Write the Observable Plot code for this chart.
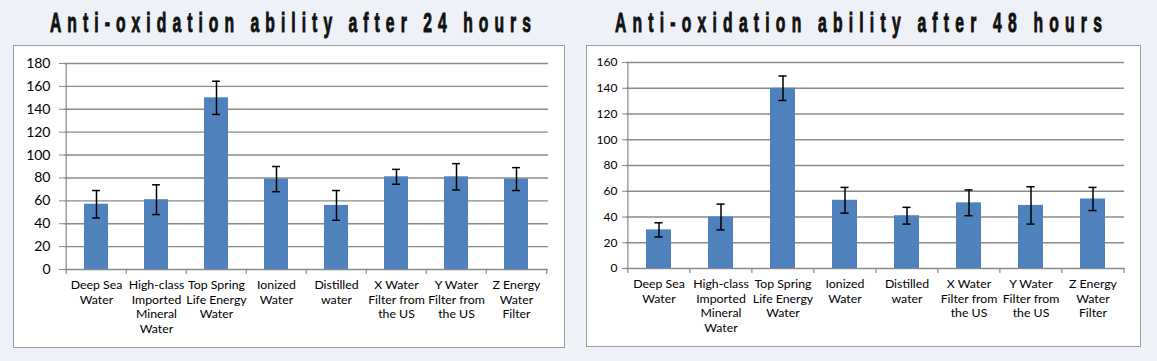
<!DOCTYPE html>
<html><head><meta charset="utf-8">
<script src="https://cdn.jsdelivr.net/npm/d3@7"></script>
<script src="https://cdn.jsdelivr.net/npm/@observablehq/plot@0.6"></script>
<style>
body{margin:0;background:#eef2f8;width:1157px;height:361px;overflow:hidden;position:relative;font-family:Lato,sans-serif}
.title{position:absolute;top:7.6px;white-space:nowrap;font-family:"Liberation Sans",Arial,sans-serif;font-weight:bold;font-size:28px;color:#111;line-height:30px;display:inline-block;transform-origin:0 0;-webkit-text-stroke:1px #111}
.box{position:absolute;background:#fff;border:1px solid #9c9c9c}
.box svg{display:block}
</style></head><body>
<div id="t1" class="title"></div>
<div id="t2" class="title"></div>
<div id="b1" class="box" style="left:13px;top:45px;width:550px;height:301px"></div>
<div id="b2" class="box" style="left:586px;top:45px;width:553px;height:300px"></div>
<script>
const categories = [
  "Deep Sea\nWater",
  "High-class\nImported\nMineral\nWater",
  "Top Spring\nLife Energy\nWater",
  "Ionized\nWater",
  "Distilled\nwater",
  "X Water\nFilter from\nthe US",
  "Y Water\nFilter from\nthe US",
  "Z Energy\nWater\nFilter"
];
const titles = ["Anti-oxidation ability after 24 hours", "Anti-oxidation ability after 48 hours"];
const values24 = [57, 61, 150, 79, 56, 81, 81, 79];
const errors24 = [12, 13, 14.5, 11, 13, 6.5, 11.5, 10];
const ticks24 = [0, 20, 40, 60, 80, 100, 120, 140, 160, 180];
const values48 = [30, 40, 140, 53, 41, 51, 49, 54];
const errors48 = [5.5, 10, 9.5, 10, 6.5, 10, 14.5, 9];
const ticks48 = [0, 20, 40, 60, 80, 100, 120, 140, 160];

const gray = "#8a8a8a";

function chart(o) {
  const data = categories.map((c, i) => ({c, v: o.values[i], e: o.errors[i]}));
  const n = categories.length;
  const step = (o.width - o.ml - o.mr) / n;
  const bw = step * 0.4;
  const capInset = (bw - 8) / 2;
  return Plot.plot({
    width: o.width, height: o.height,
    marginLeft: o.ml, marginRight: o.mr, marginTop: o.mt, marginBottom: o.mb,
    style: {fontFamily: "Lato, sans-serif", background: "white", overflow: "visible", color: "#000"},
    x: {domain: categories, paddingInner: 0.6, paddingOuter: 0.3, axis: null},
    y: {domain: [0, o.ticks[o.ticks.length - 1]], axis: null},
    marks: [
      Plot.gridY(o.ticks, {stroke: gray, strokeOpacity: 1, strokeWidth: 1.4}),
      Plot.barY(data, {x: "c", y: "v", fill: "#4f81bd"}),
      Plot.ruleX(data, {x: "c", y1: d => d.v - d.e, y2: d => d.v + d.e, stroke: "#000", strokeWidth: 1.5}),
      Plot.tickY(data, {x: "c", y: d => d.v + d.e, stroke: "#000", strokeWidth: 1.5, insetLeft: capInset, insetRight: capInset}),
      Plot.tickY(data, {x: "c", y: d => d.v - d.e, stroke: "#000", strokeWidth: 1.5, insetLeft: capInset, insetRight: capInset}),
      Plot.ruleX([categories[0]], {x: d => d, dx: -step / 2, stroke: gray, strokeWidth: 1.2}),
      Plot.ruleY([0], {stroke: gray, strokeWidth: 1.2}),
      Plot.ruleX(categories, {x: d => d, dx: -step / 2, y1: 0, y2: 0, insetTop: 5, stroke: gray, strokeWidth: 1.2}),
      Plot.ruleX([categories[n - 1]], {x: d => d, dx: step / 2, y1: 0, y2: 0, insetTop: 5, stroke: gray, strokeWidth: 1.2}),
      Plot.axisY(o.ticks, {label: null, tickSize: o.tickSize, tickPadding: o.tickPadding, fontSize: o.tickFont, stroke: gray, fill: "#000", tickFormat: d => String(d)}),
      Plot.axisX({label: null, tickSize: 0, tickPadding: 9, fontSize: 12.3, lineHeight: 1.2, fill: "#000", tickFormat: d => d})
    ]
  });
}

document.getElementById("b1").appendChild(chart({
  values: values24, errors: errors24, ticks: ticks24,
  width: 550, height: 301, ml: 50, mr: 16, mt: 17, mb: 78,
  tickFont: 14, tickSize: 5, tickPadding: 9
}));
document.getElementById("b2").appendChild(chart({
  values: values48, errors: errors48, ticks: ticks48,
  width: 553, height: 300, ml: 39, mr: 16, mt: 16, mb: 78,
  tickFont: 12, tickSize: 4, tickPadding: 5
}));

const sx = 0.56;
function placeTitle(id, text, center, target) {
  const el = document.getElementById(id);
  el.textContent = text;
  el.style.letterSpacing = "0px";
  el.style.transform = "scaleX(" + sx + ")";
  const w0 = el.offsetWidth;
  const n = text.length;
  const ls = (target / sx - w0) / (n - 1);
  el.style.letterSpacing = ls + "px";
  el.style.left = (center - target / 2) + "px";
}
function placeAll() {
  placeTitle("t1", titles[0], 290, 481);
  placeTitle("t2", titles[1], 858, 487);
}
placeAll();
document.fonts.ready.then(placeAll);
</script>
</body></html>
